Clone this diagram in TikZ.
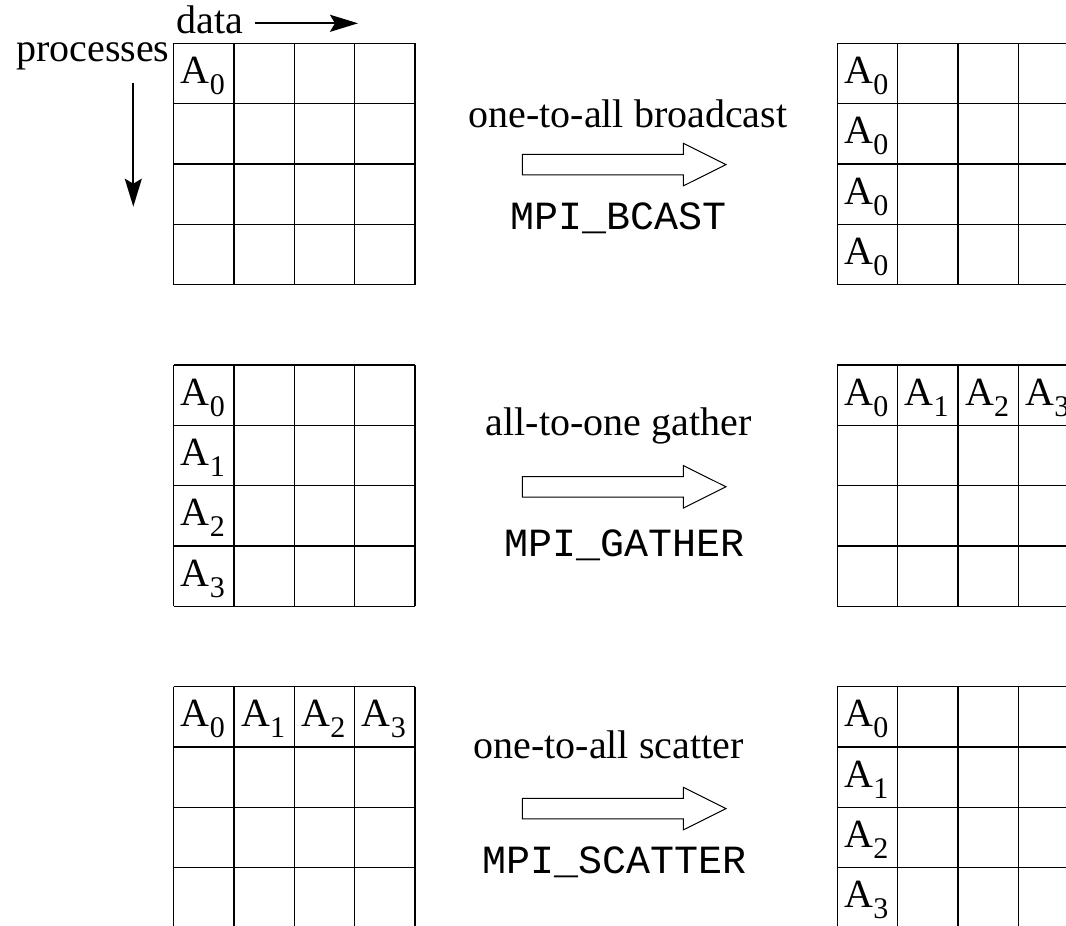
\documentclass[tikz,border=0pt]{standalone}
\usepackage{fontspec}
\setmainfont{Liberation Serif}
\setmonofont{Liberation Mono}
\usetikzlibrary{arrows.meta}
\newcommand\subs[1]{\raisebox{-11pt}{\fontsize{30}{30}\selectfont #1}}
\newcommand\mygrid[2]{%
  \draw[gridline] foreach \i in {0,...,4} {(#1+\i*60.35, #2) -- (#1+\i*60.35, #2+241.4) (#1, #2+\i*60.35) -- (#1+241.4, #2+\i*60.35)};}
\tikzset{
  gridline/.style={line width=1.4pt, black},
  cell/.style={inner sep=0pt, anchor=base west, font=\fontsize{40}{40}\selectfont},
  lbl/.style={inner sep=0pt, anchor=base west, font=\fontsize{40}{40}\selectfont},
  mono/.style={inner sep=0pt, anchor=base west, font=\fontsize{40}{40}\selectfont\ttfamily},
  axisarrow/.style={line width=2pt, -{Stealth[length=28pt,width=17pt,inset=5pt]}},
  arrowline/.style={line width=1pt, fill=white},
  pics/blockarrow/.style={code={
    \draw[arrowline] (0,-10.2) -- (161,-10.2) -- (161,-21.3) -- (203.7,0) -- (161,21.3) -- (161,10.2) -- (0,10.2) -- cycle;}}
}
\begin{document}
\begin{tikzpicture}[x=1pt,y=-1pt]
\useasboundingbox (0,0) rectangle (1066,926);
\begin{scope}
\clip (0,0) rectangle (1066,926);
% axis labels
\node[lbl] (data) at (176.7,33.3) {data};
\node[lbl] (proc) at (16,61.5) {processes};
\coordinate (dS) at (255,23.3);
\coordinate (dE) at (358,23.3);
\draw[axisarrow] (dS) -- (dE);
\coordinate (pS) at (133.3,83.3);
\coordinate (pE) at (133.3,206.7);
\draw[axisarrow] (pS) -- (pE);
% grids
\mygrid{173.7}{43.3}
\mygrid{837.3}{43.3}
\mygrid{173.7}{365}
\mygrid{837.3}{365}
\mygrid{173.7}{686.7}
\mygrid{837.3}{686.7}
% row 1: broadcast
\node[cell] (l1) at (180.7,83.3) {A\subs{0}};
\node[cell] (r1a) at (844.3,83.3) {A\subs{0}};
\node[cell] (r1b) at (844.3,143.6) {A\subs{0}};
\node[cell] (r1c) at (844.3,204) {A\subs{0}};
\node[cell] (r1d) at (844.3,264.3) {A\subs{0}};
\node[lbl] (t1) at (468.3,127.5) {one-to-all broadcast};
\pic at (522.3,164.6) {blockarrow};
\node[mono] (m1) at (510.5,229.3) {MPI\_BCAST};
% row 2: gather
\node[cell] (l2a) at (180.7,405) {A\subs{0}};
\node[cell] (l2b) at (180.7,465.3) {A\subs{1}};
\node[cell] (l2c) at (180.7,525.7) {A\subs{2}};
\node[cell] (l2d) at (180.7,586) {A\subs{3}};
\node[cell] (r2a) at (844.3,405) {A\subs{0}};
\node[cell] (r2b) at (904.6,405) {A\subs{1}};
\node[cell] (r2c) at (965,405) {A\subs{2}};
\node[cell] (r2d) at (1025.3,405) {A\subs{3}};
\node[lbl] (t2) at (485.7,435.5) {all-to-one gather};
\pic at (522.3,486.8) {blockarrow};
\node[mono] (m2) at (503.8,556.7) {MPI\_GATHER};
% row 3: scatter
\node[cell] (l3a) at (180.7,726.7) {A\subs{0}};
\node[cell] (l3b) at (241,726.7) {A\subs{1}};
\node[cell] (l3c) at (301.4,726.7) {A\subs{2}};
\node[cell] (l3d) at (361.7,726.7) {A\subs{3}};
\node[cell] (r3a) at (844.3,726.7) {A\subs{0}};
\node[cell] (r3b) at (844.3,787) {A\subs{1}};
\node[cell] (r3c) at (844.3,847.4) {A\subs{2}};
\node[cell] (r3d) at (844.3,907.7) {A\subs{3}};
\node[lbl] (t3) at (473.3,758.3) {one-to-all scatter};
\pic at (522.3,808.6) {blockarrow};
\node[mono] (m3) at (482.1,873.3) {MPI\_SCATTER};
\end{scope}
\end{tikzpicture}
\end{document}
